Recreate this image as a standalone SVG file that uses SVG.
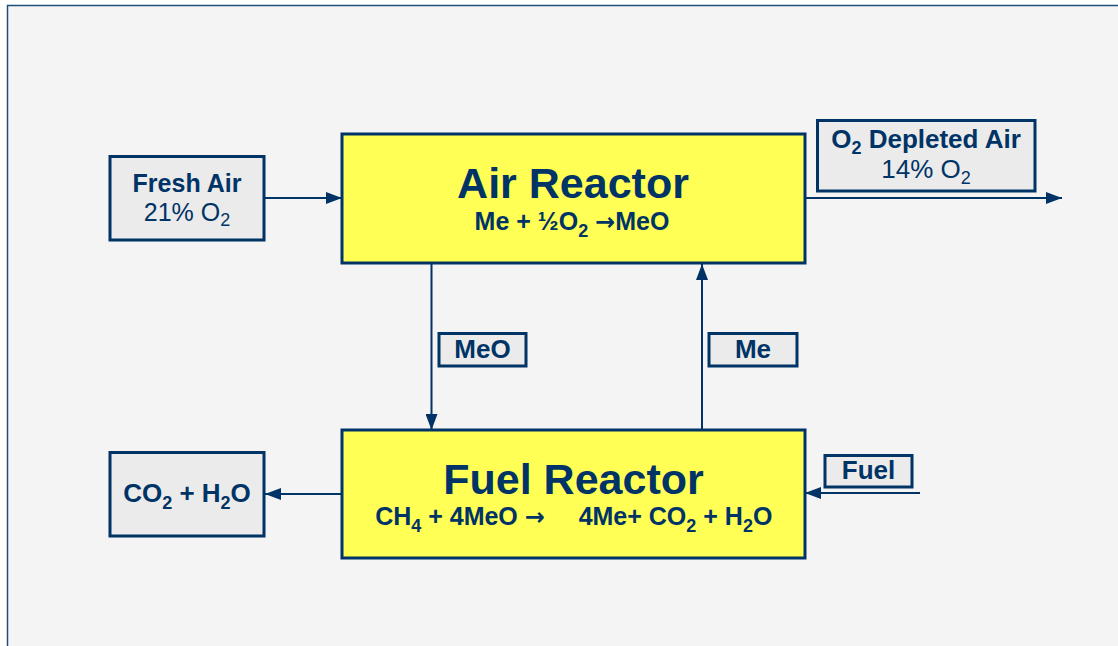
<svg xmlns="http://www.w3.org/2000/svg" width="1118" height="646" viewBox="0 0 1118 646">
<defs>
<style>
.box{fill:#ebebeb;stroke:#003366;stroke-width:3}
.reactor{fill:#ffff55;stroke:#003366;stroke-width:3}
.t{font-family:"Liberation Sans",Arial,sans-serif;fill:#003366;text-anchor:middle}
.b{font-weight:bold}
.lbl{font-size:26px}
.lbl2{font-size:25px}
.big{font-size:43px;font-weight:bold}
.eq{font-size:25px;font-weight:bold}
.arr{font-family:"DejaVu Sans",sans-serif;font-weight:bold;font-size:24px}
.conn{stroke:#003366;stroke-width:2;fill:none;marker-end:url(#ah)}
</style>
<marker id="ah" markerUnits="userSpaceOnUse" markerWidth="16" markerHeight="12" refX="16" refY="6" orient="auto">
<path d="M0,0 L16,6 L0,12 Z" fill="#003366"/>
</marker>
</defs>
<rect x="0" y="0" width="1118" height="646" fill="#ffffff"/>
<rect x="7" y="5" width="1111" height="641" fill="#f4f4f4"/>
<path d="M7.5,646 V5.5 H1118" fill="none" stroke="#1f4e79" stroke-width="1.5"/>

<g id="connectors">
<line class="conn" x1="265" y1="198" x2="342" y2="198"/>
<line class="conn" x1="805" y1="198" x2="1062" y2="198"/>
<line class="conn" x1="431.5" y1="264" x2="431.5" y2="430"/>
<line class="conn" x1="702" y1="430" x2="702" y2="264"/>
<line class="conn" x1="342" y1="494" x2="265" y2="494"/>
<line class="conn" x1="920" y1="493" x2="805" y2="493"/>
</g>

<g id="fresh-air">
<rect class="box" x="110" y="156.5" width="154" height="83.5"/>
<text class="t b lbl2" x="187" y="192">Fresh Air</text>
<text class="t lbl2" x="187" y="221">21% O<tspan font-size="18" dy="5">2</tspan></text>
</g>

<g id="air-reactor">
<rect class="reactor" x="342" y="134" width="463" height="129"/>
<text class="t big" x="573" y="198">Air Reactor</text>
<text class="t eq" x="572" y="230">Me + ½O<tspan font-size="18" dy="7">2</tspan><tspan dy="-7"> </tspan><tspan class="arr">→</tspan>MeO</text>
</g>

<g id="depleted-air">
<rect class="box" x="817.5" y="120.5" width="217.5" height="70.5"/>
<text class="t b lbl" x="926" y="148">O<tspan font-size="18" dy="6">2</tspan><tspan dy="-6"> Depleted Air</tspan></text>
<text class="t lbl" x="926" y="178">14% O<tspan font-size="18" dy="6">2</tspan></text>
</g>

<g id="meo-label">
<rect class="box" x="439" y="333.5" width="87" height="32.5"/>
<text class="t b lbl" x="482.5" y="358">MeO</text>
</g>

<g id="me-label">
<rect class="box" x="709" y="333.5" width="88" height="32.5"/>
<text class="t b lbl" x="753" y="358">Me</text>
</g>

<g id="fuel-reactor">
<rect class="reactor" x="342" y="430" width="463" height="128"/>
<text class="t big" x="573.5" y="494">Fuel Reactor</text>
<text class="t eq" x="460" y="525">CH<tspan font-size="18" dy="7">4</tspan><tspan dy="-7"> + 4MeO </tspan><tspan class="arr">→</tspan></text>
<text class="t eq" x="675.5" y="525">4Me+ CO<tspan font-size="18" dy="7">2</tspan><tspan dy="-7"> + H</tspan><tspan font-size="18" dy="7">2</tspan><tspan dy="-7">O</tspan></text>
</g>

<g id="co2-h2o">
<rect class="box" x="110" y="452.5" width="154" height="83.5"/>
<text class="t b lbl" x="187" y="502">CO<tspan font-size="18" dy="7">2</tspan><tspan dy="-7"> + H</tspan><tspan font-size="18" dy="7">2</tspan><tspan dy="-7">O</tspan></text>
</g>

<g id="fuel">
<rect class="box" x="825" y="455.5" width="87" height="31.5"/>
<text class="t b lbl" x="868.5" y="479">Fuel</text>
</g>
</svg>
